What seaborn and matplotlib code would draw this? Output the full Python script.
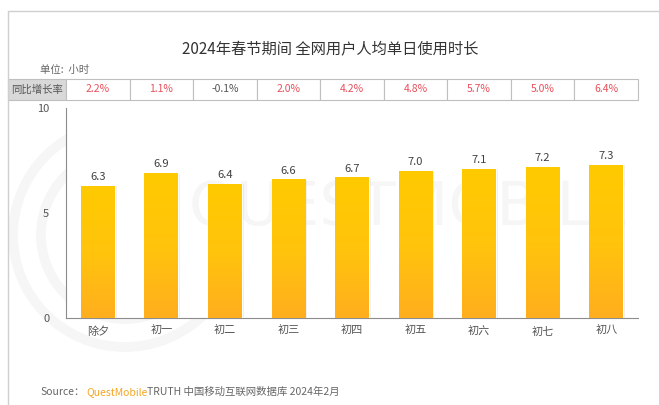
import matplotlib
matplotlib.use("Agg")
import matplotlib.pyplot as plt
import matplotlib.transforms as mtransforms
from matplotlib.patches import Rectangle, Circle
from matplotlib.colors import LinearSegmentedColormap
import numpy as np
import pandas as pd
import seaborn as sns

sns.set_style("white")
plt.rcParams["font.family"] = ["Noto Sans CJK SC", "DejaVu Sans"]

# data
days = ["除夕", "初一", "初二", "初三", "初四", "初五", "初六", "初七", "初八"]
hours = [6.3, 6.9, 6.4, 6.6, 6.7, 7.0, 7.1, 7.2, 7.3]
growth = ["2.2%", "1.1%", "-0.1%", "2.0%", "4.2%", "4.8%", "5.7%", "5.0%", "6.4%"]
yticks = [0, 5, 10]

df = pd.DataFrame({"day": days, "hours": hours})

W, H = 659, 405
fig = plt.figure(figsize=(W / 100, H / 100), dpi=100)
ax = fig.add_axes([66 / W, 1 - 318 / H, (638 - 66) / W, (318 - 108) / H])

sns.barplot(data=df, x="day", y="hours", color="#FFC000", width=0.53,
            saturation=1, ax=ax, zorder=3)

# yellow -> orange gradient inside each bar
cmap = LinearSegmentedColormap.from_list("yo", ["#FFAE1E", "#FFC40C", "#FFCA00"])
grad = np.linspace(0, 1, 256).reshape(-1, 1)
for p in ax.patches:
    x0, w, h = p.get_x(), p.get_width(), p.get_height()
    # soft shadow to the right
    ax.add_patch(Rectangle((x0 + 0.03, 0), w, h - 0.03, color="#000000",
                           alpha=0.07, zorder=2, lw=0))
    im = ax.imshow(grad, extent=(x0, x0 + w, 0, h), origin="lower",
                   cmap=cmap, aspect="auto", zorder=3.5)
    im.set_clip_path(p)
    ax.text(p.get_x() + w / 2, h + 0.18, f"{h:.1f}", ha="center", va="bottom",
            fontsize=8, color="#404040", zorder=5)

ax.set_xlim(-0.5, len(days) - 0.5)
ax.set_ylim(0, 10)
ax.set_yticks(yticks)
ax.set_xlabel("")
ax.set_ylabel("")
ax.tick_params(axis="both", length=0, labelsize=8, colors="#555555")
ax.tick_params(axis="y", pad=12)
ax.tick_params(axis="x", pad=6)
for s in ["top", "right"]:
    ax.spines[s].set_visible(False)
for s in ["left", "bottom"]:
    ax.spines[s].set_color("#8c8c8c")
    ax.spines[s].set_linewidth(0.8)

# faint watermark
ax.text(0.6, 0.52, "QUESTMOBILE", transform=ax.transAxes, ha="center",
        va="center", fontsize=44, color="#f6f6f6", zorder=0,
        family="DejaVu Sans")
for r in (112, 84):
    fig.add_artist(Circle((125, H - 235), r, transform=None, fill=False,
                          ec="#f6f6f6", lw=7, zorder=0))

# outer frame
fig.add_artist(plt.Line2D([8 / W, 8 / W], [0, 1 - 11 / H], color="#cfcfcf",
                          lw=1, transform=fig.transFigure))
fig.add_artist(plt.Line2D([8 / W, 1], [1 - 11 / H, 1 - 11 / H], color="#cfcfcf",
                          lw=1, transform=fig.transFigure))

# title and unit
fig.text(330 / W, 1 - 50 / H, "2024年春节期间 全网用户人均单日使用时长",
         ha="center", va="center", fontsize=11, color="#333333")
fig.text(40 / W, 1 - 70 / H, "单位:  小时", ha="left", va="center",
         fontsize=7.5, color="#666666")

# growth table row
ty0, ty1 = 1 - 100 / H, 1 - 79 / H
blend = mtransforms.blended_transform_factory(ax.transData, fig.transFigure)
fig.add_artist(Rectangle((8 / W, ty0), (66 - 8) / W, ty1 - ty0,
                         transform=fig.transFigure, fc="#d9d9d9",
                         ec="#bfbfbf", lw=0.8))
fig.text(37 / W, (ty0 + ty1) / 2, "同比增长率", ha="center", va="center",
         fontsize=7.5, color="#555555")
for i, g in enumerate(growth):
    fig.add_artist(Rectangle((i - 0.5, ty0), 1, ty1 - ty0, transform=blend,
                             fc="white", ec="#bfbfbf", lw=0.8))
    col = "#555555" if g.startswith("-") else "#E8505B"
    fig.text(i, (ty0 + ty1) / 2, g, transform=blend, ha="center",
             va="center", fontsize=7.5, color=col)

# source line
fig.text(40 / W, 1 - 392 / H, "Source：", ha="left", va="center",
         fontsize=7.5, color="#666666")
fig.text(86 / W, 1 - 392 / H, "QuestMobile", ha="left", va="center",
         fontsize=7.5, color="#F5A623")
fig.text(147 / W, 1 - 392 / H, "TRUTH 中国移动互联网数据库 2024年2月",
         ha="left", va="center", fontsize=7.5, color="#666666")

fig.savefig("out.png", dpi=100, facecolor="white")
